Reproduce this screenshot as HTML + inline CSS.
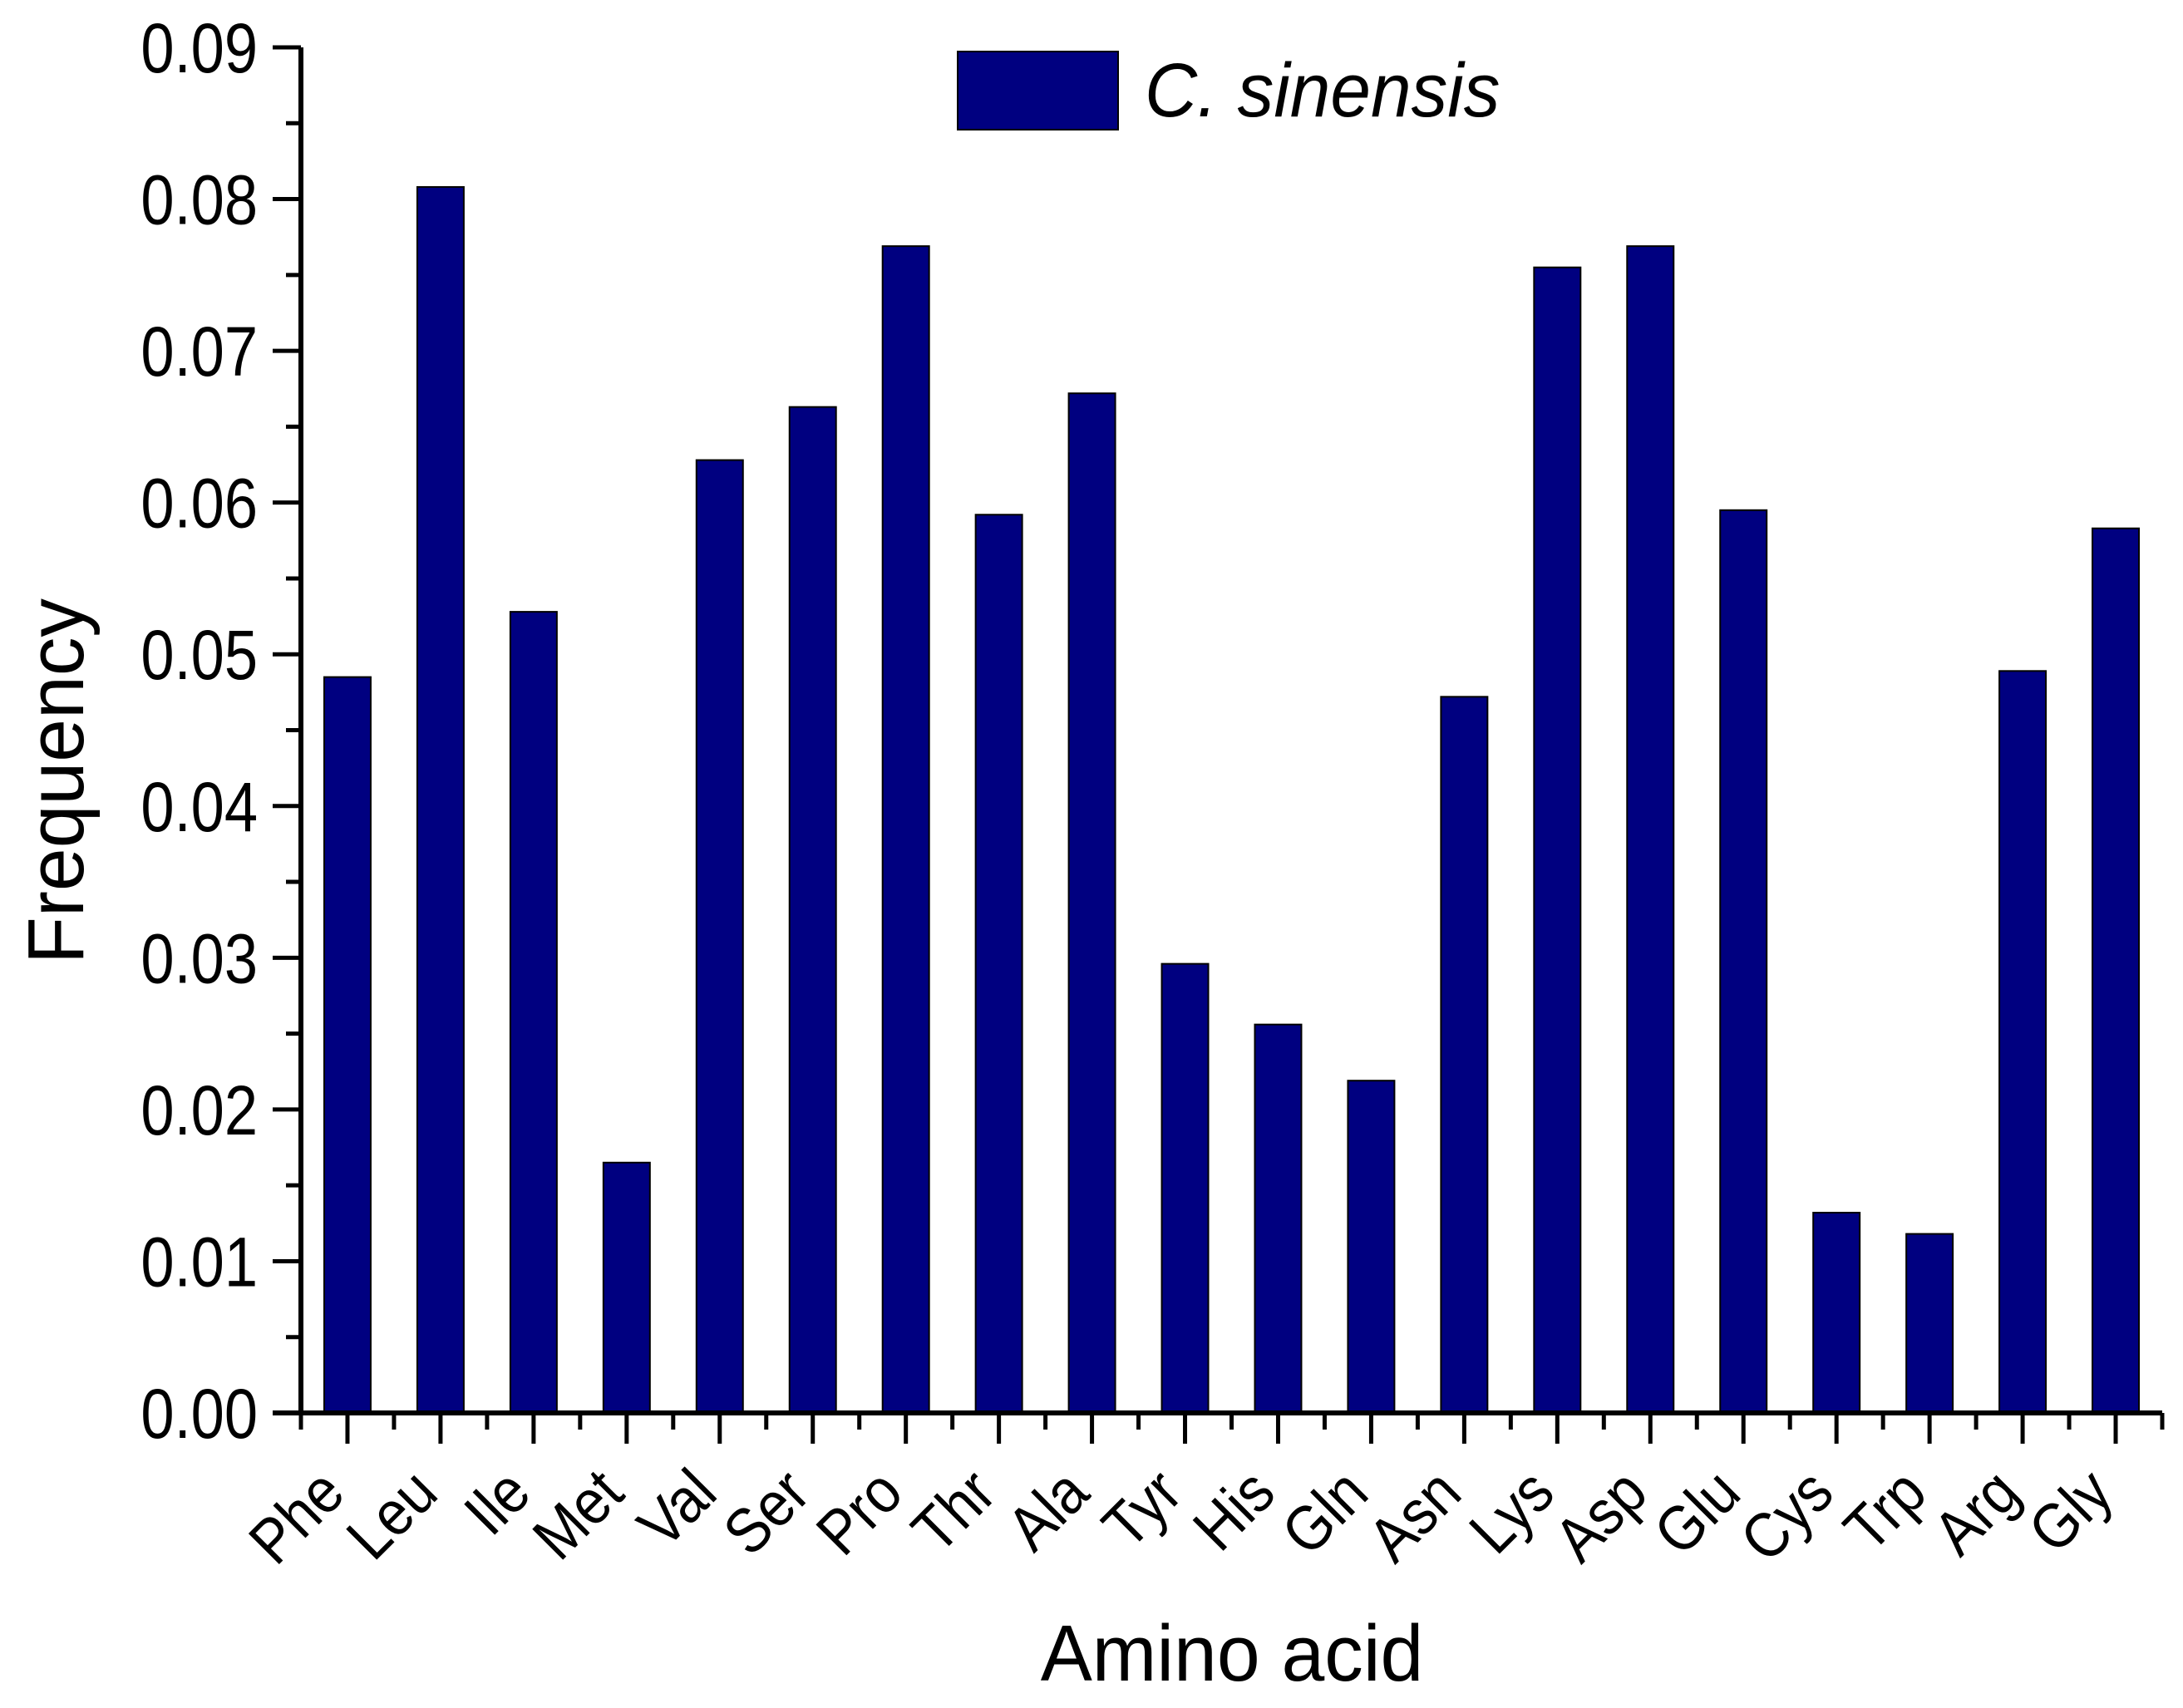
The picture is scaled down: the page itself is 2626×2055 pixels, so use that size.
<!DOCTYPE html>
<html><head><meta charset="utf-8"><style>body{margin:0;background:#fff}svg{display:block}text{font-family:"Liberation Sans",Arial,sans-serif;fill:#000}</style></head>
<body>
<svg id="chart" width="2626" height="2055" viewBox="0 0 2626 2055" xmlns="http://www.w3.org/2000/svg">
<g id="bars"></g>
<g id="axes"></g>
<g>
<rect x="1152" y="62" width="193" height="94" fill="#000080" stroke="#000" stroke-width="2"/>
<text transform="translate(1377,140) scale(0.95,1)" font-size="92" font-style="italic">C. sinensis</text>
</g>
<text transform="translate(100,940) rotate(-90) scale(0.97,1)" text-anchor="middle" font-size="96">Frequency</text>
<text transform="translate(1482,2022) scale(0.97,1)" text-anchor="middle" font-size="96">Amino acid</text>
</svg>
<script>
const categories = ["Phe","Leu","Ile","Met","Val","Ser","Pro","Thr","Ala","Tyr","His","Gln","Asn","Lys","Asp","Glu","Cys","Trp","Arg","Gly"];
const frequencies = [0.0485,0.0808,0.0528,0.0165,0.0628,0.0663,0.0769,0.0592,0.0672,0.0296,0.0256,0.0219,0.0472,0.0755,0.0769,0.0595,0.0132,0.0118,0.0489,0.0583];
const yTickLabels = ["0.00","0.01","0.02","0.03","0.04","0.05","0.06","0.07","0.08","0.09"];
const NS="http://www.w3.org/2000/svg";
const X0=362, X1=2601, Y0=1700, Y1=57, YMAX=0.09;
const step=(X1-X0)/categories.length;
function xScale(i){return X0+(i+0.5)*step;}
function yScale(v){return Y0-(v/YMAX)*(Y0-Y1);}
function mk(tag,attrs,parent){const e=document.createElementNS(NS,tag);for(const k in attrs)e.setAttribute(k,attrs[k]);parent.appendChild(e);return e;}
const bars=document.getElementById('bars'), axes=document.getElementById('axes');
const bw=step*0.5;
frequencies.forEach((v,i)=>{
  const r=mk('rect',{x:xScale(i)-bw/2,y:yScale(v),width:bw,height:Y0-yScale(v),fill:'#000080',stroke:'#000','stroke-width':2},bars);
  
  
});
const ya=mk('line',{x1:X0,y1:Y1,x2:X0,y2:Y0+3,stroke:'#000','stroke-width':6},axes);


const xa=mk('line',{x1:X0-34,y1:Y0,x2:X1,y2:Y0,stroke:'#000','stroke-width':6},axes);


yTickLabels.forEach((lab,i)=>{
  const v=parseFloat(lab), y=yScale(v);
  const t=mk('line',{x1:X0-34,y1:y,x2:X0,y2:y,stroke:'#000','stroke-width':5},axes);
  
  
  const tx=mk('text',{'text-anchor':'end','font-size':84,transform:`translate(${X0-52},${y+30}) scale(0.86,1)`},axes);
  tx.textContent=lab;
  
  
  if(i<yTickLabels.length-1){
    const ym=yScale(v+0.005);
    const m=mk('line',{x1:X0-18,y1:ym,x2:X0,y2:ym,stroke:'#000','stroke-width':5},axes);
    
    
  }
});
for(let i=0;i<=categories.length;i++){
  const xm=X0+i*step;
  const m=mk('line',{x1:xm,y1:Y0,x2:xm,y2:Y0+20,stroke:'#000','stroke-width':5},axes);
  
  
}
categories.forEach((c,i)=>{
  const x=xScale(i);
  const t=mk('line',{x1:x,y1:Y0,x2:x,y2:Y0+37,stroke:'#000','stroke-width':5},axes);
  
  
  const tx=mk('text',{'text-anchor':'end','font-size':76,transform:`translate(${x},${Y0+100}) rotate(-45) scale(0.9,1)`},axes);
  tx.textContent=c;
  
  
});
</script>
</body></html>
